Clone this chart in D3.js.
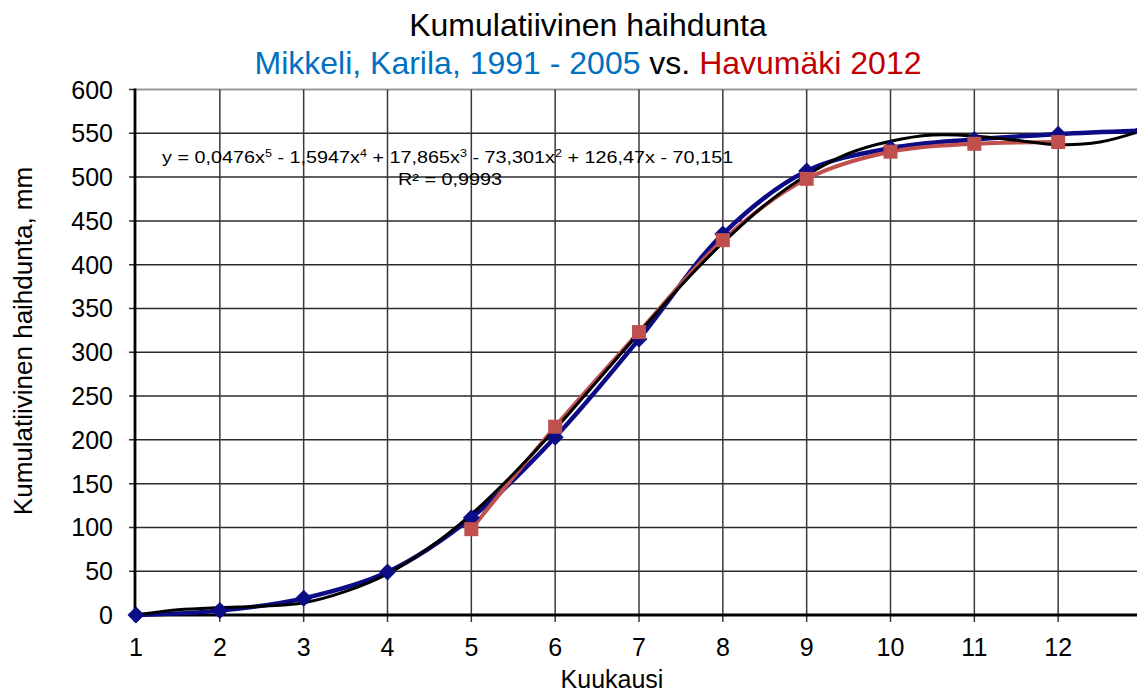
<!DOCTYPE html>
<html>
<head>
<meta charset="utf-8">
<script src="https://cdn.jsdelivr.net/npm/d3@7"></script>
<style>
  body { margin: 0; background: #fff; }
  svg { display: block; font-family: "Liberation Sans", Arial, sans-serif; }
</style>
</head>
<body>
<svg id="chart" width="1137" height="695"></svg>
<script>
// months on the x axis
var months = [1, 2, 3, 4, 5, 6, 7, 8, 9, 10, 11, 12, 13];
var tickMonths = [1, 2, 3, 4, 5, 6, 7, 8, 9, 10, 11, 12];
var yTicks = [0, 50, 100, 150, 200, 250, 300, 350, 400, 450, 500, 550, 600];

// Mikkeli, Karila 1991 - 2005
var mikkeli = [0, 5, 19, 49, 111, 203, 315, 435, 507, 533, 543, 549, 553];

// Havumaki 2012 (May - Dec)
var havumakiMonths = [5, 6, 7, 8, 9, 10, 11, 12];
var havumaki = [98, 215, 323, 428, 498, 529, 538, 540];

// polynomial trend line
var trendX = [1, 1.5, 2, 2.5, 3, 3.5, 4, 4.5, 5, 5.5, 6, 6.5, 7, 7.5, 8, 8.5, 9, 9.5, 10, 10.5, 11, 11.5, 12, 12.5, 13];
var trendY = [0, 6, 8.5, 10, 14, 27, 47, 77, 115, 161, 212, 267, 322, 376, 425, 468, 502, 527, 541, 548, 547, 542, 537, 540, 553];

(function () {
  var svg = d3.select('#chart'),
      plotLeft = 135, plotRight = 1137, plotTop = 89.5, plotBottom = 615;

  var x = d3.scaleLinear().domain([1, 13]).range([136, 1142]);
  var y = d3.scaleLinear().domain([0, 600]).range([plotBottom, plotTop]);

  var gridColor = '#2a2a2a',
      blueLine = '#0c0c86',
      redLine = '#c0504d';

  // horizontal grid
  svg.append('g')
    .selectAll('line')
    .data(yTicks.filter(function (d) { return d > 0 && d < 600; }))
    .enter()
    .append('line')
    .attr('x1', plotLeft - 6).attr('x2', plotRight)
    .attr('y1', function (d) { return y(d); })
    .attr('y2', function (d) { return y(d); })
    .attr('stroke', gridColor)
    .attr('stroke-width', 1.5);

  // top border
  svg.append('line')
    .attr('x1', plotLeft).attr('x2', plotRight)
    .attr('y1', y(600)).attr('y2', y(600))
    .attr('stroke', '#999').attr('stroke-width', 2);
  svg.append('line')
    .attr('x1', plotLeft - 6).attr('x2', plotLeft)
    .attr('y1', y(600)).attr('y2', y(600))
    .attr('stroke', gridColor).attr('stroke-width', 1.5);

  // vertical grid
  svg.append('g')
    .selectAll('line')
    .data(tickMonths.slice(1))
    .enter()
    .append('line')
    .attr('x1', function (d) { return x(d); })
    .attr('x2', function (d) { return x(d); })
    .attr('y1', plotTop).attr('y2', plotBottom + 7)
    .attr('stroke', '#3a3a3a')
    .attr('stroke-width', 1.5);

  // axes lines
  svg.append('line')
    .attr('x1', plotLeft).attr('x2', plotLeft)
    .attr('y1', plotTop - 1).attr('y2', plotBottom + 7)
    .attr('stroke', '#000').attr('stroke-width', 2.8);
  svg.append('line')
    .attr('x1', plotLeft - 6).attr('x2', plotRight)
    .attr('y1', plotBottom).attr('y2', plotBottom)
    .attr('stroke', '#000').attr('stroke-width', 2.8);

  // tick labels
  svg.append('g')
    .selectAll('text')
    .data(yTicks)
    .enter()
    .append('text')
    .attr('x', 113)
    .attr('y', function (d) { return y(d) + 9; })
    .attr('text-anchor', 'end')
    .attr('font-size', 25)
    .text(function (d) { return d; });

  svg.append('g')
    .selectAll('text')
    .data(tickMonths)
    .enter()
    .append('text')
    .attr('x', function (d) { return x(d); })
    .attr('y', 656)
    .attr('text-anchor', 'middle')
    .attr('font-size', 25)
    .text(function (d) { return d; });

  // axis titles
  svg.append('text')
    .attr('x', 612).attr('y', 688)
    .attr('text-anchor', 'middle')
    .attr('font-size', 25)
    .text('Kuukausi');

  svg.append('text')
    .attr('transform', 'translate(32,341) rotate(-90)')
    .attr('text-anchor', 'middle')
    .attr('font-size', 26)
    .text('Kumulatiivinen haihdunta, mm');

  // titles
  svg.append('text')
    .attr('x', 588).attr('y', 36)
    .attr('text-anchor', 'middle')
    .attr('font-size', 32)
    .text('Kumulatiivinen haihdunta');

  var sub = svg.append('text')
    .attr('x', 588).attr('y', 74)
    .attr('text-anchor', 'middle')
    .attr('font-size', 32);
  sub.append('tspan').attr('fill', '#0070c0').text('Mikkeli, Karila, 1991 - 2005');
  sub.append('tspan').attr('fill', '#000').text(' vs. ');
  sub.append('tspan').attr('fill', '#c00000').text('Havumäki 2012');

  // trend equation (text is drawn a bit wide in the original)
  var eq = svg.append('text')
    .attr('transform', 'translate(162,163) scale(1.2,1)')
    .attr('font-size', 16.5);
  var parts = [['y = 0,0476x', '5'], [' - 1,5947x', '4'], [' + 17,865x', '3'], [' - 73,301x', '2'], [' + 126,47x - 70,151', null]];
  var raised = false;
  parts.forEach(function (p) {
    eq.append('tspan').attr('dy', raised ? 6 : 0).text(p[0]);
    raised = false;
    if (p[1]) {
      eq.append('tspan').attr('dy', -6).attr('font-size', 10.5).text(p[1]);
      raised = true;
    }
  });
  svg.append('text')
    .attr('transform', 'translate(398,185) scale(1.2,1)')
    .attr('font-size', 16.5)
    .text('R² = 0,9993');

  // series lines
  var line = d3.line()
    .x(function (d) { return x(d[0]); })
    .y(function (d) { return y(d[1]); })
    .curve(d3.curveCatmullRom);

  var blueData = months.map(function (m, i) { return [m, mikkeli[i]]; });
  var redData = havumakiMonths.map(function (m, i) { return [m, havumaki[i]]; });
  var trendData = trendX.map(function (m, i) { return [m, trendY[i]]; });

  svg.append('path')
    .attr('d', line(blueData))
    .attr('fill', 'none')
    .attr('stroke', blueLine)
    .attr('stroke-width', 4.5);

  svg.append('path')
    .attr('d', line(redData))
    .attr('fill', 'none')
    .attr('stroke', redLine)
    .attr('stroke-width', 4);

  svg.append('path')
    .attr('d', line(trendData))
    .attr('fill', 'none')
    .attr('stroke', '#000')
    .attr('stroke-width', 3);

  // markers
  svg.append('g')
    .selectAll('path')
    .data(blueData)
    .enter()
    .append('path')
    .attr('d', 'M0,-8.5L8.5,0L0,8.5L-8.5,0Z')
    .attr('transform', function (d) { return 'translate(' + x(d[0]) + ',' + y(d[1]) + ')'; })
    .attr('fill', blueLine);

  svg.append('g')
    .selectAll('rect')
    .data(redData)
    .enter()
    .append('rect')
    .attr('x', function (d) { return x(d[0]) - 7; })
    .attr('y', function (d) { return y(d[1]) - 7; })
    .attr('width', 14)
    .attr('height', 14)
    .attr('fill', redLine);
})();
</script>
</body>
</html>
